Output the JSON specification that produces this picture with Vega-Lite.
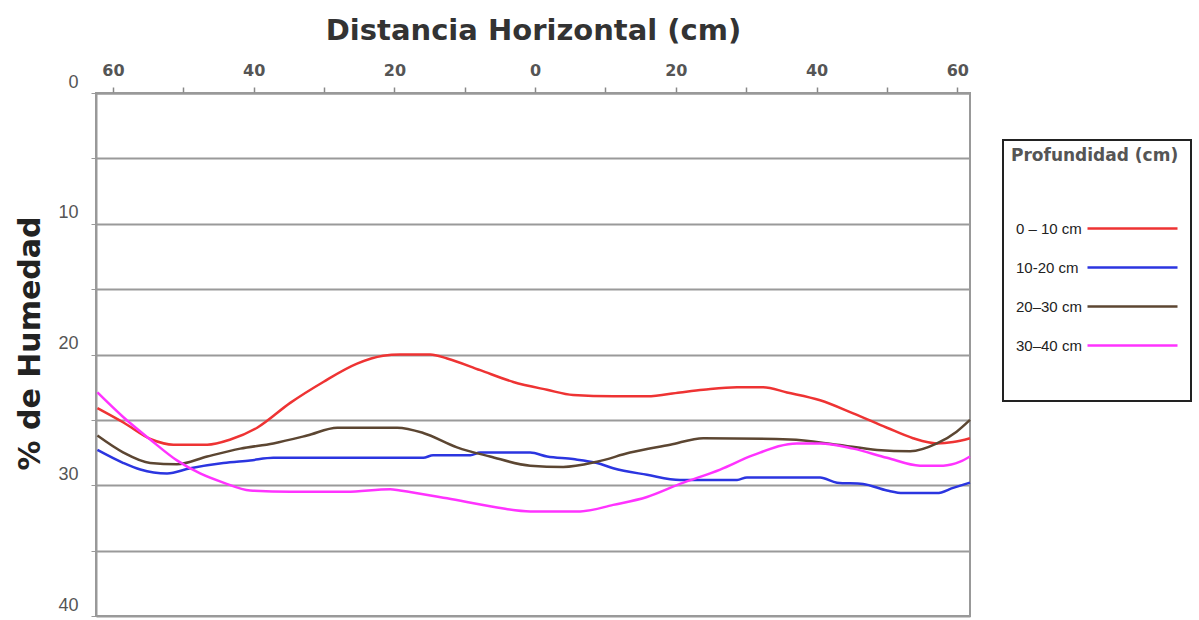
{
  "$schema": "https://vega.github.io/schema/vega-lite/v6.json",
  "width": 874,
  "height": 523,
  "autosize": {"type": "none"},
  "padding": {"left": 96, "top": 93, "right": 229, "bottom": 4},
  "background": "white",
  "config": {"view": {"stroke": "#999", "strokeWidth": 2}},
  "data": {"values": [
    {"d": -62.2, "h": 24.1, "s": "0 – 10 cm"},
    {"d": -58.5, "h": 25.2, "s": "0 – 10 cm"},
    {"d": -54.5, "h": 26.5, "s": "0 – 10 cm"},
    {"d": -51.4, "h": 26.9, "s": "0 – 10 cm"},
    {"d": -46.6, "h": 26.9, "s": "0 – 10 cm"},
    {"d": -43.3, "h": 26.5, "s": "0 – 10 cm"},
    {"d": -39.5, "h": 25.6, "s": "0 – 10 cm"},
    {"d": -34.8, "h": 23.7, "s": "0 – 10 cm"},
    {"d": -30.1, "h": 22.1, "s": "0 – 10 cm"},
    {"d": -25.3, "h": 20.7, "s": "0 – 10 cm"},
    {"d": -21.6, "h": 20.1, "s": "0 – 10 cm"},
    {"d": -19.2, "h": 20.0, "s": "0 – 10 cm"},
    {"d": -14.9, "h": 20.0, "s": "0 – 10 cm"},
    {"d": -12.5, "h": 20.3, "s": "0 – 10 cm"},
    {"d": -7.8, "h": 21.2, "s": "0 – 10 cm"},
    {"d": -3.1, "h": 22.1, "s": "0 – 10 cm"},
    {"d": 1.7, "h": 22.7, "s": "0 – 10 cm"},
    {"d": 5.4, "h": 23.1, "s": "0 – 10 cm"},
    {"d": 11.1, "h": 23.2, "s": "0 – 10 cm"},
    {"d": 15.9, "h": 23.2, "s": "0 – 10 cm"},
    {"d": 20.6, "h": 22.9, "s": "0 – 10 cm"},
    {"d": 23.9, "h": 22.7, "s": "0 – 10 cm"},
    {"d": 28.7, "h": 22.5, "s": "0 – 10 cm"},
    {"d": 32.4, "h": 22.5, "s": "0 – 10 cm"},
    {"d": 35.8, "h": 22.9, "s": "0 – 10 cm"},
    {"d": 40.5, "h": 23.5, "s": "0 – 10 cm"},
    {"d": 45.2, "h": 24.5, "s": "0 – 10 cm"},
    {"d": 50.0, "h": 25.6, "s": "0 – 10 cm"},
    {"d": 53.7, "h": 26.4, "s": "0 – 10 cm"},
    {"d": 57.1, "h": 26.8, "s": "0 – 10 cm"},
    {"d": 59.4, "h": 26.7, "s": "0 – 10 cm"},
    {"d": 61.8, "h": 26.4, "s": "0 – 10 cm"},

    {"d": -62.2, "h": 27.3, "s": "10-20 cm"},
    {"d": -58.5, "h": 28.3, "s": "10-20 cm"},
    {"d": -56.1, "h": 28.8, "s": "10-20 cm"},
    {"d": -52.3, "h": 29.1, "s": "10-20 cm"},
    {"d": -49.0, "h": 28.7, "s": "10-20 cm"},
    {"d": -44.3, "h": 28.3, "s": "10-20 cm"},
    {"d": -40.5, "h": 28.1, "s": "10-20 cm"},
    {"d": -37.2, "h": 27.9, "s": "10-20 cm"},
    {"d": -20.6, "h": 27.9, "s": "10-20 cm"},
    {"d": -15.9, "h": 27.9, "s": "10-20 cm"},
    {"d": -14.5, "h": 27.7, "s": "10-20 cm"},
    {"d": -9.2, "h": 27.7, "s": "10-20 cm"},
    {"d": -7.8, "h": 27.5, "s": "10-20 cm"},
    {"d": -0.7, "h": 27.5, "s": "10-20 cm"},
    {"d": 1.7, "h": 27.8, "s": "10-20 cm"},
    {"d": 5.4, "h": 28.0, "s": "10-20 cm"},
    {"d": 8.8, "h": 28.3, "s": "10-20 cm"},
    {"d": 11.1, "h": 28.7, "s": "10-20 cm"},
    {"d": 15.9, "h": 29.2, "s": "10-20 cm"},
    {"d": 20.6, "h": 29.6, "s": "10-20 cm"},
    {"d": 28.7, "h": 29.6, "s": "10-20 cm"},
    {"d": 30.1, "h": 29.4, "s": "10-20 cm"},
    {"d": 40.5, "h": 29.4, "s": "10-20 cm"},
    {"d": 42.9, "h": 29.8, "s": "10-20 cm"},
    {"d": 46.6, "h": 29.9, "s": "10-20 cm"},
    {"d": 50.0, "h": 30.4, "s": "10-20 cm"},
    {"d": 52.3, "h": 30.6, "s": "10-20 cm"},
    {"d": 57.1, "h": 30.6, "s": "10-20 cm"},
    {"d": 59.4, "h": 30.2, "s": "10-20 cm"},
    {"d": 61.8, "h": 29.8, "s": "10-20 cm"},

    {"d": -62.2, "h": 26.2, "s": "20–30 cm"},
    {"d": -58.5, "h": 27.5, "s": "20–30 cm"},
    {"d": -54.7, "h": 28.3, "s": "20–30 cm"},
    {"d": -50.9, "h": 28.4, "s": "20–30 cm"},
    {"d": -46.6, "h": 27.8, "s": "20–30 cm"},
    {"d": -41.9, "h": 27.2, "s": "20–30 cm"},
    {"d": -37.2, "h": 26.8, "s": "20–30 cm"},
    {"d": -32.4, "h": 26.2, "s": "20–30 cm"},
    {"d": -28.1, "h": 25.6, "s": "20–30 cm"},
    {"d": -19.6, "h": 25.6, "s": "20–30 cm"},
    {"d": -15.9, "h": 26.0, "s": "20–30 cm"},
    {"d": -11.1, "h": 27.1, "s": "20–30 cm"},
    {"d": -6.4, "h": 27.8, "s": "20–30 cm"},
    {"d": -0.7, "h": 28.5, "s": "20–30 cm"},
    {"d": 4.0, "h": 28.6, "s": "20–30 cm"},
    {"d": 8.8, "h": 28.2, "s": "20–30 cm"},
    {"d": 13.5, "h": 27.5, "s": "20–30 cm"},
    {"d": 19.2, "h": 26.9, "s": "20–30 cm"},
    {"d": 23.9, "h": 26.4, "s": "20–30 cm"},
    {"d": 36.2, "h": 26.5, "s": "20–30 cm"},
    {"d": 42.9, "h": 26.9, "s": "20–30 cm"},
    {"d": 48.6, "h": 27.3, "s": "20–30 cm"},
    {"d": 53.3, "h": 27.4, "s": "20–30 cm"},
    {"d": 57.1, "h": 26.8, "s": "20–30 cm"},
    {"d": 59.9, "h": 25.9, "s": "20–30 cm"},
    {"d": 61.8, "h": 25.0, "s": "20–30 cm"},

    {"d": -62.2, "h": 22.9, "s": "30–40 cm"},
    {"d": -58.5, "h": 24.8, "s": "30–40 cm"},
    {"d": -54.7, "h": 26.5, "s": "30–40 cm"},
    {"d": -50.9, "h": 28.1, "s": "30–40 cm"},
    {"d": -47.6, "h": 29.1, "s": "30–40 cm"},
    {"d": -44.3, "h": 29.8, "s": "30–40 cm"},
    {"d": -40.5, "h": 30.4, "s": "30–40 cm"},
    {"d": -34.8, "h": 30.5, "s": "30–40 cm"},
    {"d": -26.8, "h": 30.5, "s": "30–40 cm"},
    {"d": -20.6, "h": 30.3, "s": "30–40 cm"},
    {"d": -19.2, "h": 30.4, "s": "30–40 cm"},
    {"d": -12.5, "h": 31.0, "s": "30–40 cm"},
    {"d": -5.4, "h": 31.7, "s": "30–40 cm"},
    {"d": -0.7, "h": 32.0, "s": "30–40 cm"},
    {"d": 6.4, "h": 32.0, "s": "30–40 cm"},
    {"d": 11.1, "h": 31.5, "s": "30–40 cm"},
    {"d": 15.9, "h": 30.9, "s": "30–40 cm"},
    {"d": 20.6, "h": 29.9, "s": "30–40 cm"},
    {"d": 26.3, "h": 28.8, "s": "30–40 cm"},
    {"d": 31.0, "h": 27.7, "s": "30–40 cm"},
    {"d": 37.2, "h": 26.8, "s": "30–40 cm"},
    {"d": 40.5, "h": 26.8, "s": "30–40 cm"},
    {"d": 45.2, "h": 27.2, "s": "30–40 cm"},
    {"d": 50.0, "h": 27.9, "s": "30–40 cm"},
    {"d": 54.7, "h": 28.5, "s": "30–40 cm"},
    {"d": 58.0, "h": 28.5, "s": "30–40 cm"},
    {"d": 60.4, "h": 28.2, "s": "30–40 cm"},
    {"d": 61.8, "h": 27.8, "s": "30–40 cm"}
  ]},
  "mark": {"type": "line", "interpolate": "monotone", "strokeWidth": 2.5},
  "encoding": {
    "x": {
      "field": "d",
      "type": "quantitative",
      "scale": {"domain": [-62.4, 61.8], "nice": false, "zero": false},
      "axis": {
        "orient": "top",
        "title": "Distancia Horizontal (cm)",
        "titleFont": "DejaVu Sans",
        "titleFontSize": 29,
        "titleFontWeight": "bold",
        "titleColor": "#333",
        "titleBaseline": "middle",
        "titleY": -63,
        "values": [-60, -50, -40, -30, -20, -10, 0, 10, 20, 30, 40, 50, 60],
        "labelExpr": "datum.value % 20 == 0 ? format(abs(datum.value), 'd') : ''",
        "labelFont": "DejaVu Sans",
        "labelFontSize": 16,
        "labelFontWeight": "bold",
        "labelColor": "#555",
        "labelPadding": 9,
        "labelFlush": false,
        "tickSize": 6,
        "tickColor": "#888",
        "tickWidth": 1.5,
        "domainColor": "#999",
        "domainWidth": 2,
        "grid": false
      }
    },
    "y": {
      "field": "h",
      "type": "quantitative",
      "scale": {"domain": [0, 40], "reverse": true, "nice": false, "zero": false},
      "axis": {
        "orient": "left",
        "title": "% de Humedad",
        "titleFont": "DejaVu Sans",
        "titleFontSize": 30,
        "titleFontWeight": "bold",
        "titleColor": "#222",
        "titleBaseline": "middle",
        "titleX": -66,
        "titleY": 250,
        "values": [0, 5, 10, 15, 20, 25, 30, 35, 40],
        "labelExpr": "datum.value % 10 == 0 ? datum.label : ''",
        "labelFont": "Liberation Sans",
        "labelFontSize": 18,
        "labelColor": "#555",
        "labelOffset": -11,
        "labelPadding": 13,
        "labelFlush": false,
        "tickSize": 5,
        "tickColor": "#999",
        "domainColor": "#999",
        "domainWidth": 2,
        "grid": true,
        "gridColor": "#9a9a9a",
        "gridWidth": 2
      }
    },
    "color": {
      "field": "s",
      "type": "nominal",
      "scale": {
        "domain": ["0 – 10 cm", "10-20 cm", "20–30 cm", "30–40 cm", " "],
        "range": ["#ee3333", "#2b35e0", "#5c4632", "#ff33ff", "transparent"]
      },
      "legend": {
        "orient": "none",
        "legendX": 907,
        "legendY": 47,
        "title": "Profundidad (cm)",
        "titleFont": "DejaVu Sans",
        "titleFontSize": 17,
        "titleFontWeight": "bold",
        "titleColor": "#555",
        "titlePadding": 52,
        "symbolType": "M-4.5,0L4.5,0",
        "symbolSize": 400,
        "symbolStrokeWidth": 2.5,
        "symbolFillColor": "transparent",
        "rowPadding": 19,
        "labelFont": "Liberation Sans Narrow, Liberation Sans",
        "labelFontSize": 15,
        "labelColor": "#222",
        "labelOffset": -128,
        "symbolOffset": 110,
        "labelLimit": 200,
        "strokeColor": "#222",
        "fillColor": "white",
        "padding": 8,
        "encode": {"legend": {"update": {"strokeWidth": {"value": 2}}}}
      }
    }
  }
}
